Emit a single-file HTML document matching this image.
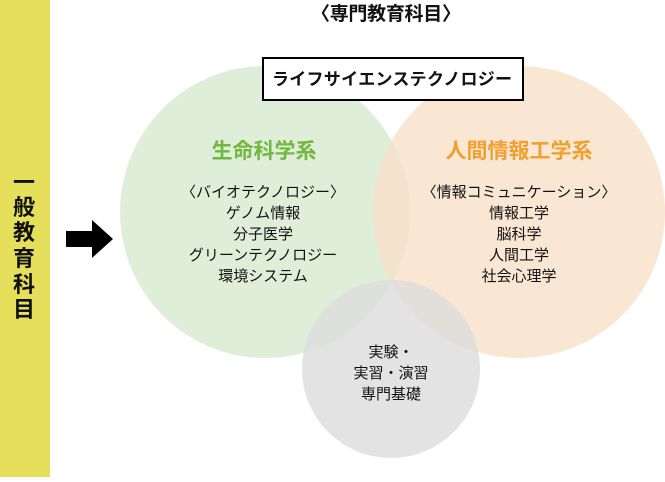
<!DOCTYPE html>
<html><head><meta charset="utf-8"><style>
body{margin:0;width:665px;height:477px;background:#fff;overflow:hidden}
svg text{font-family:"Liberation Sans","Noto Sans CJK JP",sans-serif}
</style></head><body>
<svg width="665" height="477" viewBox="0 0 665 477">
<rect x="0" y="0" width="50" height="477" fill="#e6df5c"/>
<g font-size="22" font-weight="bold" fill="#111" text-anchor="middle">
<text x="24" y="190">一</text><text x="24" y="215">般</text><text x="24" y="240">教</text><text x="24" y="266">育</text><text x="24" y="292">科</text><text x="24" y="317">目</text>
</g>
<polygon points="66,231 92,231 92,220 113,239 92,258 92,247 66,247" fill="#000"/>
<ellipse cx="265" cy="212" rx="145" ry="146" fill="#d9ebd2" opacity="0.85"/>
<ellipse cx="519" cy="212" rx="146" ry="146" fill="#f8e0c8" opacity="0.8"/>
<ellipse cx="391" cy="369" rx="89" ry="89" fill="#dcdcdc" opacity="0.8"/>
<text x="386" y="20" font-size="19" font-weight="bold" text-anchor="middle" fill="#111" textLength="150">〈専門教育科目〉</text>
<rect x="263" y="58" width="260" height="42" fill="#fff" stroke="#000" stroke-width="2"/>
<text x="392" y="85" font-size="17" font-weight="bold" text-anchor="middle" fill="#111" textLength="240">ライフサイエンステクノロジー</text>
<text x="264" y="158" font-size="21" font-weight="bold" text-anchor="middle" fill="#72b83e">生命科学系</text>
<text x="519" y="158" font-size="21" font-weight="bold" text-anchor="middle" fill="#f0a030">人間情報工学系</text>
<g font-size="15" text-anchor="middle" fill="#111">
<text x="263" y="197">〈バイオテクノロジー〉</text>
<text x="263" y="218">ゲノム情報</text>
<text x="263" y="239">分子医学</text>
<text x="263" y="260">グリーンテクノロジー</text>
<text x="263" y="281">環境システム</text>
<text x="519" y="197">〈情報コミュニケーション〉</text>
<text x="519" y="218">情報工学</text>
<text x="519" y="239">脳科学</text>
<text x="519" y="260">人間工学</text>
<text x="519" y="281">社会心理学</text>
<text x="391" y="357">実験・</text>
<text x="391" y="378">実習・演習</text>
<text x="391" y="399">専門基礎</text>
</g>
</svg>
</body></html>
